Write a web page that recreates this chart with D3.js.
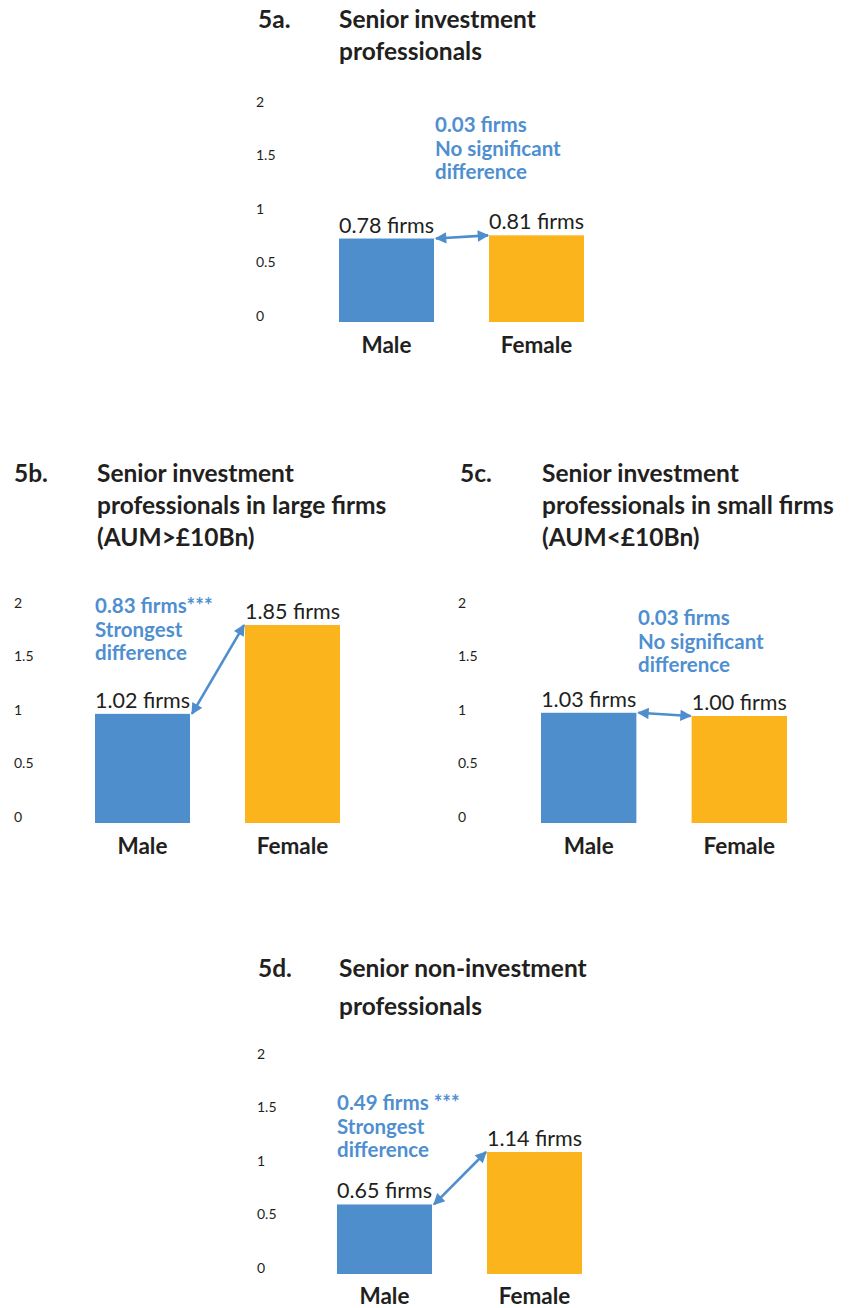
<!DOCTYPE html>
<html><head><meta charset="utf-8">
<script src="https://cdn.jsdelivr.net/npm/d3@7"></script>
<style>
html,body{margin:0;padding:0;background:#fff;}
svg{display:block;}
</style></head>
<body>
<svg id="chart" width="853" height="1308"></svg>
<script>
// ---- data ----
const categories = ["Male", "Female"];
const tickValues = [0, 0.5, 1, 1.5, 2];
const values5a = [0.78, 0.81];
const values5b = [1.02, 1.85];
const values5c = [1.03, 1.00];
const values5d = [0.65, 1.14];
const valueLabels5a = ["0.78 firms", "0.81 firms"];
const valueLabels5b = ["1.02 firms", "1.85 firms"];
const valueLabels5c = ["1.03 firms", "1.00 firms"];
const valueLabels5d = ["0.65 firms", "1.14 firms"];
const titles5a = ["Senior investment", "professionals"];
const titles5b = ["Senior investment", "professionals in large firms", "(AUM>£10Bn)"];
const titles5c = ["Senior investment", "professionals in small firms", "(AUM<£10Bn)"];
const titles5d = ["Senior non-investment", "professionals"];
const notes5a = ["0.03 firms", "No significant", "difference"];
const notes5b = ["0.83 firms***", "Strongest", "difference"];
const notes5c = ["0.03 firms", "No significant", "difference"];
const notes5d = ["0.49 firms ***", "Strongest", "difference"];

// ---- layout ----
const FONT = "'Lato', 'Noto Sans', sans-serif";
const BLUE = "#4F8ECC", ORANGE = "#FBB41C", TEXT = "#231F20", NOTE = "#4F8FD0";
const panels = [
  {num:"5a.", titles:titles5a, values:values5a, labels:valueLabels5a, notes:notes5a,
   numX:258, titleX:339, titleY:28, titleGap:32, tickX:256, y0:322, barL:339, barR:584,
   noteX:435, noteY:132, catY:353},
  {num:"5b.", titles:titles5b, values:values5b, labels:valueLabels5b, notes:notes5b,
   numX:14, titleX:97, titleY:482, titleGap:32, tickX:14, y0:823, barL:95, barR:340,
   noteX:95, noteY:613, catY:854},
  {num:"5c.", titles:titles5c, values:values5c, labels:valueLabels5c, notes:notes5c,
   numX:460, titleX:542, titleY:482, titleGap:32, tickX:458, y0:823, barL:541, barR:787,
   noteX:638, noteY:625, catY:854},
  {num:"5d.", titles:titles5d, values:values5d, labels:valueLabels5d, notes:notes5d,
   numX:258, titleX:339, titleY:977, titleGap:38, tickX:257, y0:1274, barL:337, barR:582,
   noteX:337, noteY:1110, catY:1304}
];

const svg = d3.select("#chart");
const defs = svg.append("defs");
defs.append("marker").attr("id","ah").attr("viewBox","0 0 10 10")
  .attr("refX",9).attr("refY",5).attr("markerWidth",5.2).attr("markerHeight",4.4)
  .attr("markerUnits","strokeWidth").attr("orient","auto-start-reverse")
  .append("path").attr("d","M0,0 L10,5 L0,10 Z").attr("fill",BLUE);

panels.forEach(p => {
  const g = svg.append("g");
  const x = d3.scaleBand().domain(categories).range([p.barL, p.barR])
    .paddingInner(0.3667).paddingOuter(0);
  const y = d3.scaleLinear().domain([0, 2]).range([p.y0, p.y0 - 214]);

  // title
  g.append("text").attr("x", p.numX).attr("y", p.titleY).text(p.num)
    .attr("font-family", FONT).attr("font-weight", 700).attr("font-size", 24.5).attr("fill", TEXT);
  p.titles.forEach((t, i) => {
    g.append("text").attr("x", p.titleX).attr("y", p.titleY + i * p.titleGap).text(t)
      .attr("font-family", FONT).attr("font-weight", 700).attr("font-size", 24.5).attr("fill", TEXT);
  });

  // y axis (labels only)
  const ax = g.append("g").attr("transform", `translate(${p.tickX},-6)`)
    .call(d3.axisLeft(y).tickValues(tickValues).tickSize(0).tickFormat(d3.format("~g")));
  ax.select(".domain").remove();
  ax.selectAll("text").attr("x", 0).attr("text-anchor", "start")
    .attr("font-family", FONT).attr("font-size", 14).attr("fill", TEXT);

  // bars
  const data = categories.map((c, i) => ({c, v: p.values[i], lab: p.labels[i]}));
  g.selectAll("rect.bar").data(data).join("rect").attr("class", "bar")
    .attr("x", d => x(d.c)).attr("width", x.bandwidth())
    .attr("y", d => y(d.v)).attr("height", d => y(0) - y(d.v))
    .attr("fill", (d, i) => i === 0 ? BLUE : ORANGE);

  // value labels
  g.selectAll("text.val").data(data).join("text").attr("class", "val")
    .attr("x", d => x(d.c) + x.bandwidth() / 2).attr("y", d => y(d.v) - 6)
    .attr("text-anchor", "middle").text(d => d.lab)
    .attr("font-family", FONT).attr("font-size", 21.5).attr("fill", TEXT);

  // category labels
  g.selectAll("text.cat").data(data).join("text").attr("class", "cat")
    .attr("x", d => x(d.c) + x.bandwidth() / 2).attr("y", p.catY)
    .attr("text-anchor", "middle").text(d => d.c)
    .attr("font-family", FONT).attr("font-weight", 700).attr("font-size", 22.5).attr("fill", TEXT);

  // arrow between bar tops
  const x1 = x(categories[0]) + x.bandwidth() + 2, y1 = y(p.values[0]);
  const x2 = x(categories[1]) - 1, y2 = y(p.values[1]);
  g.append("line").attr("x1", x1).attr("y1", y1).attr("x2", x2).attr("y2", y2)
    .attr("stroke", BLUE).attr("stroke-width", 2.6)
    .attr("marker-start", "url(#ah)").attr("marker-end", "url(#ah)");

  // annotation
  p.notes.forEach((t, i) => {
    g.append("text").attr("x", p.noteX).attr("y", p.noteY + i * 23.5).text(t)
      .attr("font-family", FONT).attr("font-weight", 700).attr("font-size", 20.5).attr("fill", NOTE);
  });
});
</script>
</body></html>
